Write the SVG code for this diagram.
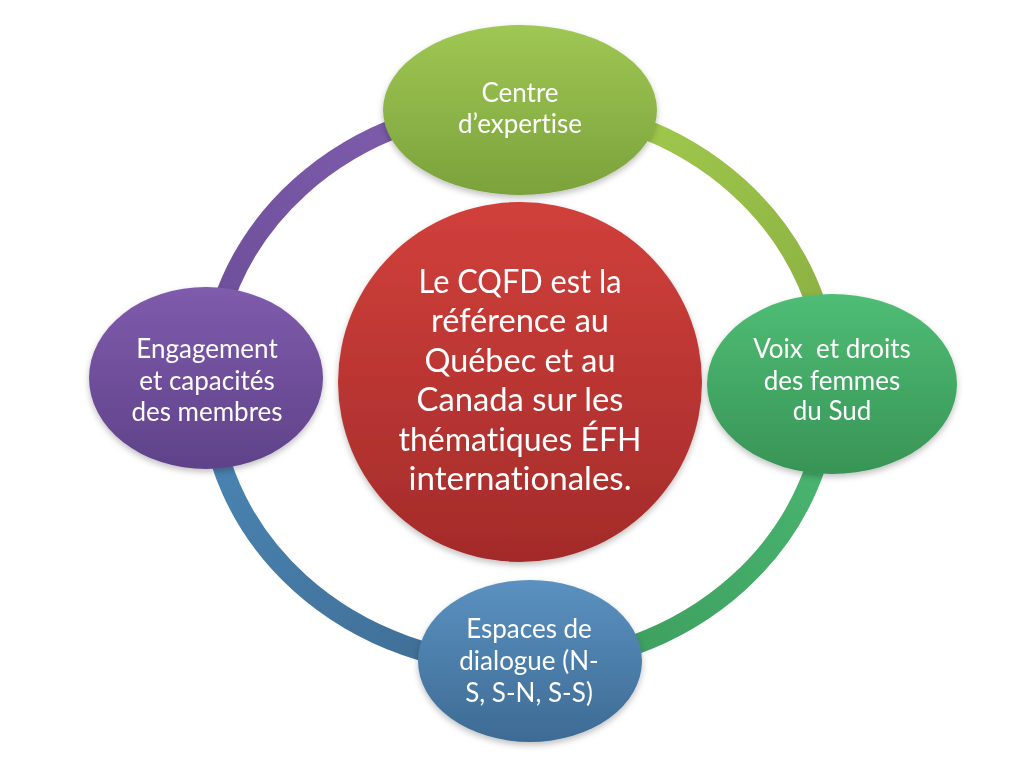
<svg xmlns="http://www.w3.org/2000/svg" width="1024" height="768" viewBox="0 0 1024 768">
<defs>
  <linearGradient id="gLime" x1="0" y1="0" x2="0" y2="1"><stop offset="0" stop-color="#9fc753"/><stop offset="1" stop-color="#7ba23c"/></linearGradient>
  <linearGradient id="gRed" x1="0" y1="0" x2="0" y2="1"><stop offset="0" stop-color="#d1403b"/><stop offset="1" stop-color="#a32b2a"/></linearGradient>
  <linearGradient id="gPurple" x1="0" y1="0" x2="0" y2="1"><stop offset="0" stop-color="#7f5bac"/><stop offset="1" stop-color="#5f4289"/></linearGradient>
  <linearGradient id="gGreen" x1="0" y1="0" x2="0" y2="1"><stop offset="0" stop-color="#4fbd75"/><stop offset="1" stop-color="#389456"/></linearGradient>
  <linearGradient id="gBlue" x1="0" y1="0" x2="0" y2="1"><stop offset="0" stop-color="#5b91c0"/><stop offset="1" stop-color="#3d6b94"/></linearGradient>
  <linearGradient id="aPurple" gradientUnits="userSpaceOnUse" x1="380" y1="110" x2="210" y2="380"><stop offset="0" stop-color="#7d5bab"/><stop offset="1" stop-color="#6a4c96"/></linearGradient>
  <linearGradient id="aLime" gradientUnits="userSpaceOnUse" x1="650" y1="110" x2="830" y2="380"><stop offset="0" stop-color="#9fc84c"/><stop offset="1" stop-color="#88ac40"/></linearGradient>
  <linearGradient id="aGreen" gradientUnits="userSpaceOnUse" x1="830" y1="380" x2="530" y2="665"><stop offset="0" stop-color="#4cb874"/><stop offset="1" stop-color="#3a9a5a"/></linearGradient>
  <linearGradient id="aBlue" gradientUnits="userSpaceOnUse" x1="210" y1="380" x2="530" y2="665"><stop offset="0" stop-color="#4a87b6"/><stop offset="1" stop-color="#3e6a90"/></linearGradient>
  <filter id="sh" x="-20%" y="-20%" width="140%" height="150%">
    <feDropShadow dx="0" dy="3" stdDeviation="3" flood-color="#000" flood-opacity="0.25"/>
  </filter>
</defs>
<style>
  .arc { fill: none; stroke-width: 20; }
  .lbl { font-family: Lato, "Liberation Sans", sans-serif; fill: #ffffff; text-anchor: middle; font-size: 26px; font-variant-ligatures: none; }
  .big { font-size: 33px; }
</style>
<rect width="1024" height="768" fill="#ffffff"/>
<g id="connectors">
  <path class="arc" stroke="url(#aPurple)" d="M 519 105 A 310 280 0 0 0 209 385"/>
  <path class="arc" stroke="url(#aLime)" d="M 519 105 A 310 280 0 0 1 829 385"/>
  <path class="arc" stroke="url(#aGreen)" d="M 829 385 A 310 280 0 0 1 519 665"/>
  <path class="arc" stroke="url(#aBlue)" d="M 209 385 A 310 280 0 0 0 519 665"/>
</g>
<g id="node-center" filter="url(#sh)">
  <ellipse cx="520" cy="382" rx="182" ry="180" fill="url(#gRed)"/>
  <text class="lbl big" x="520" y="293" textLength="203" lengthAdjust="spacingAndGlyphs">Le CQFD est la</text>
  <text class="lbl big" x="520" y="332" textLength="178" lengthAdjust="spacingAndGlyphs">référence au</text>
  <text class="lbl big" x="520" y="372" textLength="191" lengthAdjust="spacingAndGlyphs">Québec et au</text>
  <text class="lbl big" x="520" y="411" textLength="207" lengthAdjust="spacingAndGlyphs">Canada sur les</text>
  <text class="lbl big" x="520" y="451" textLength="243" lengthAdjust="spacingAndGlyphs">thématiques ÉFH</text>
  <text class="lbl big" x="520" y="490" textLength="223" lengthAdjust="spacingAndGlyphs">internationales.</text>
</g>
<g id="node-top" filter="url(#sh)">
  <ellipse cx="520" cy="110" rx="137" ry="85" fill="url(#gLime)"/>
  <text class="lbl" x="520" y="102">Centre</text>
  <text class="lbl" x="520" y="133">d’expertise</text>
</g>
<g id="node-right" filter="url(#sh)">
  <ellipse cx="832" cy="384" rx="125" ry="90" fill="url(#gGreen)"/>
  <text class="lbl" x="832" y="358" xml:space="preserve">Voix  et droits</text>
  <text class="lbl" x="832" y="390">des femmes</text>
  <text class="lbl" x="832" y="420">du Sud</text>
</g>
<g id="node-bottom" filter="url(#sh)">
  <ellipse cx="530" cy="661" rx="112" ry="81" fill="url(#gBlue)"/>
  <text class="lbl" x="529" y="638">Espaces de</text>
  <text class="lbl" x="529" y="670">dialogue (N-</text>
  <text class="lbl" x="529" y="702">S, S-N, S-S)</text>
</g>
<g id="node-left" filter="url(#sh)">
  <ellipse cx="206" cy="378" rx="117" ry="91" fill="url(#gPurple)"/>
  <text class="lbl" x="207" y="358">Engagement</text>
  <text class="lbl" x="207" y="390">et capacités</text>
  <text class="lbl" x="207" y="421">des membres</text>
</g>
</svg>
